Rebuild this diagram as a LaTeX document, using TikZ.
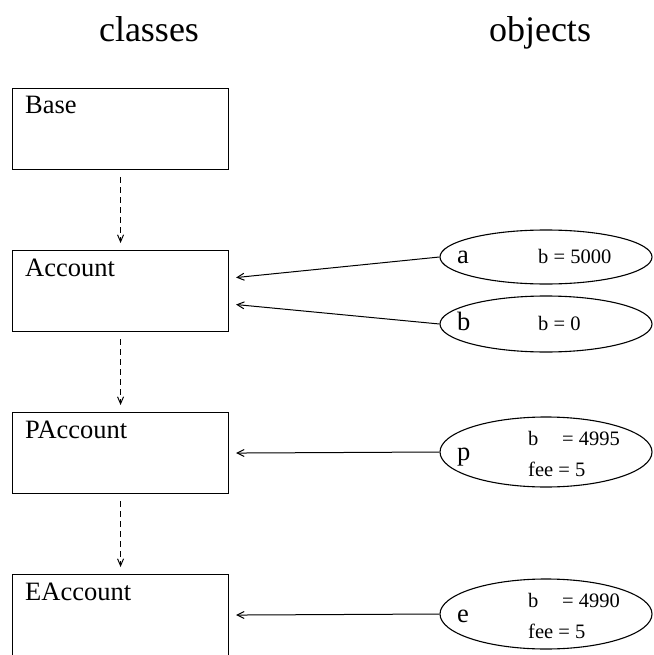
\documentclass[tikz,border=0pt]{standalone}
\usepackage{fontspec}
\setmainfont{Liberation Serif}
\usetikzlibrary{shapes.geometric,arrows.meta,calc}
\begin{document}
\begin{tikzpicture}[x=1pt,y=-1pt,
  classbox/.style={draw,line width=1.1pt,minimum width=216pt,minimum height=81pt,inner sep=0pt,anchor=north west},
  objell/.style={draw,ellipse,line width=1.1pt,inner sep=0pt,minimum width=212pt},
  boxlabel/.style={anchor=base west,inner sep=0pt,font=\fontsize{26.5}{30}\selectfont},
  objlabel/.style={anchor=base west,inner sep=0pt,font=\fontsize{26.5}{30}\selectfont},
  vallabel/.style={anchor=base west,inner sep=0pt,font=\fontsize{20.5}{24}\selectfont},
  title/.style={anchor=base,inner sep=0pt,font=\fontsize{36}{40}\selectfont},
  inherit/.style={line width=1pt,dash pattern=on 6pt off 4pt,-{Straight Barb[length=7pt,width=6pt]}},
  instof/.style={line width=1pt,-{Straight Barb[length=7pt,width=7pt]}}
]
\useasboundingbox (0,0) rectangle (653,655);
\node[title] (tc) at (149,42) {classes};
\node[title] (to) at (540,42) {objects};

\node[classbox] (base) at (12,88) {};
\node[classbox] (acc) at (12,250) {};
\node[classbox] (pacc) at (12,412) {};
\node[classbox] (eacc) at (12,574) {};
\node[boxlabel] (lbase) at ($(base.north west)+(13,26)$) {Base};
\node[boxlabel] (lacc) at ($(acc.north west)+(13,26)$) {Account};
\node[boxlabel] (lpacc) at ($(pacc.north west)+(13,26)$) {PAccount};
\node[boxlabel] (leacc) at ($(eacc.north west)+(13,26)$) {EAccount};

\draw[inherit] ($(base.south)+(0,7)$) -- ($(acc.north)+(0,-7)$);
\draw[inherit] ($(acc.south)+(0,7)$) -- ($(pacc.north)+(0,-7)$);
\draw[inherit] ($(pacc.south)+(0,7)$) -- ($(eacc.north)+(0,-7)$);

\node[objell,minimum height=54pt] (oa) at (546,257) {};
\node[objell,minimum height=56pt] (ob) at (546,324) {};
\node[objell,minimum height=70pt] (op) at (546,452) {};
\node[objell,minimum height=70pt] (oe) at (546,614) {};

\node[objlabel] (na) at ($(oa.center)+(-89,6)$) {a};
\node[vallabel] (va) at ($(oa.center)+(-8,6)$) {b = 5000};
\node[objlabel] (nb) at ($(ob.center)+(-89,6)$) {b};
\node[vallabel] (vb) at ($(ob.center)+(-8,6)$) {b = 0};
\node[objlabel] (np) at ($(op.center)+(-89,8)$) {p};
\node[vallabel] (vpb) at ($(op.center)+(-18,-7)$) {b};
\node[vallabel] (vpbv) at ($(op.center)+(16,-7)$) {= 4995};
\node[vallabel] (vpf) at ($(op.center)+(-18,24)$) {fee = 5};
\node[objlabel] (ne) at ($(oe.center)+(-89,8)$) {e};
\node[vallabel] (veb) at ($(oe.center)+(-18,-7)$) {b};
\node[vallabel] (vebv) at ($(oe.center)+(16,-7)$) {= 4990};
\node[vallabel] (vef) at ($(oe.center)+(-18,24)$) {fee = 5};

\draw[instof] (oa.west) -- ($(acc.east)+(7,-13.5)$);
\draw[instof] (ob.west) -- ($(acc.east)+(7,13.5)$);
\draw[instof] (op.west) -- ($(pacc.east)+(7,0)$);
\draw[instof] (oe.west) -- ($(eacc.east)+(7,0)$);
\end{tikzpicture}
\end{document}
